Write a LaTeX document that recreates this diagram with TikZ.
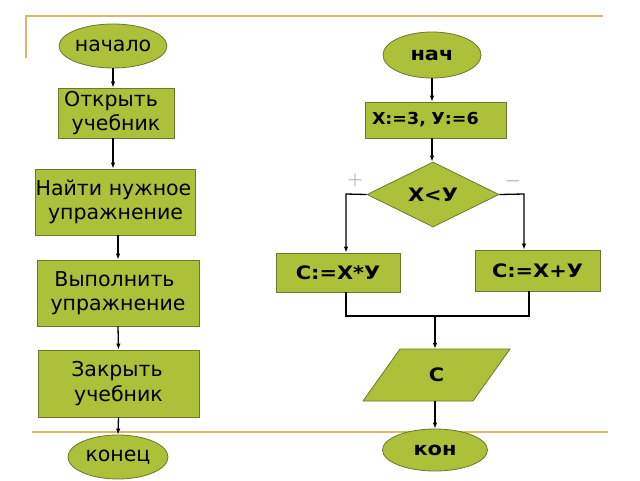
\documentclass[tikz,border=0pt]{standalone}
\usepackage{fontspec}
\setmainfont{DejaVu Sans}
\usetikzlibrary{shapes.geometric,arrows.meta}
\definecolor{boxfill}{RGB}{172,192,58}
\definecolor{boxdraw}{RGB}{105,120,45}
\definecolor{goldline}{RGB}{214,184,110}
\definecolor{signgray}{RGB}{150,150,150}
\begin{document}
\begin{tikzpicture}[x=1pt,y=-1pt,
  blk/.style={rectangle,draw=boxdraw,fill=boxfill,line width=0.8pt,inner sep=0pt,align=center},
  term/.style={ellipse,draw=boxdraw,fill=boxfill,line width=0.8pt,inner sep=0pt},
  dec/.style={diamond,draw=boxdraw,fill=boxfill,line width=0.8pt,inner sep=0pt},
  arr/.style={-{Latex[length=6pt,width=4.5pt]},line width=1.3pt,black},
  ln/.style={line width=1.5pt,black},
  reg/.style={font=\fontsize{20.5}{24.5}\selectfont},
  bld/.style={font=\bfseries\addfontfeature{FakeStretch=1.13}\fontsize{18.5}{21}\selectfont},
  bldsm/.style={font=\bfseries\addfontfeature{FakeStretch=1.06}\fontsize{16.5}{20}\selectfont},
  sign/.style={text=signgray,inner sep=0pt,font=\fontsize{22}{22}\selectfont}]
\useasboundingbox (0,0) rectangle (640,480);
\fill[white] (0,0) rectangle (640,480);
% decorative lines
\draw[goldline,line width=2pt] (26,58) -- (26,16) -- (603,16);
\draw[goldline,line width=2pt] (32,432) -- (608,432);
% left flowchart
\node[term,reg,minimum width=103pt,minimum height=44pt] (start) at (113,46) {начало};
\node[blk,reg,minimum width=116pt,minimum height=50pt] (open) at (116,113) {Открыть\kern10pt\\учебник};
\node[blk,reg,minimum width=157pt,minimum height=66pt] (find) at (115.5,202) {Найти нужное\kern4pt\\упражнение};
\node[blk,reg,minimum width=162pt,minimum height=66pt] (do) at (118,293) {Выполнить\kern7pt\\упражнение};
\node[blk,reg,minimum width=161pt,minimum height=67pt] (close) at (118.5,383.5) {Закрыть\kern3pt\\учебник};
\node[term,reg,minimum width=100pt,minimum height=44pt] (end) at (118,457) {конец};
\draw[arr] (start.south) -- (start.south |- open.north);
\draw[arr] (open.south -| start) -- (find.north -| start);
\draw[arr] (find.south -| do) -- (do.north);
\draw[arr] (do.south) -- (close.north);
\draw[arr] (close.south) -- (end.north);
% right flowchart
\node[term,bld,minimum width=98pt,minimum height=46pt] (s2) at (432,55) {нач};
\node[blk,bldsm,minimum width=141pt,minimum height=36pt,text width=127pt,align=left] (init) at (435.5,120) {X:=3, У:=6};
\node[dec,bld,minimum width=132pt,minimum height=65pt] (cond) at (433,194.5) {X<У};
\node[blk,bld,minimum width=124pt,minimum height=39pt] (mul) at (338,272.5) {C:=X*У};
\node[blk,bld,minimum width=125pt,minimum height=41pt] (add) at (537.5,270.5) {C:=X+У};
\fill[boxfill,draw=boxdraw,line width=0.8pt] (363,401) -- (400,349) -- (510,349) -- (473,401) -- cycle;
\node[bld,inner sep=0pt,minimum width=110pt,minimum height=52pt] (par) at (436.5,375) {C};
\node[term,bld,minimum width=105pt,minimum height=42pt] (fin) at (435,450) {кон};
\node[sign] (plus) at (355,180) {$+$};
\node[sign] (minus) at (513,181) {$-$};
\coordinate (lb) at (346,194);
\coordinate (rb) at (524,194);
\coordinate (ml) at (346,316);
\coordinate (mr) at (529,316);
\coordinate (mc) at (435,316);
\draw[arr] (s2.south) -- (s2.south |- init.north);
\draw[arr] (init.south -| s2) -- (s2 |- cond.north);
\draw[arr] (cond.west) -- (lb) -- (lb |- mul.north);
\draw[arr] (cond.east) -- (rb) -- (rb |- add.north);
\draw[ln] (mul.south -| ml) -- (ml) -- (mr) -- (add.south -| mr);
\draw[arr] (mc) -- (mc |- par.north);
\draw[arr] (par.south -| fin) -- (fin.north);
\end{tikzpicture}
\end{document}
